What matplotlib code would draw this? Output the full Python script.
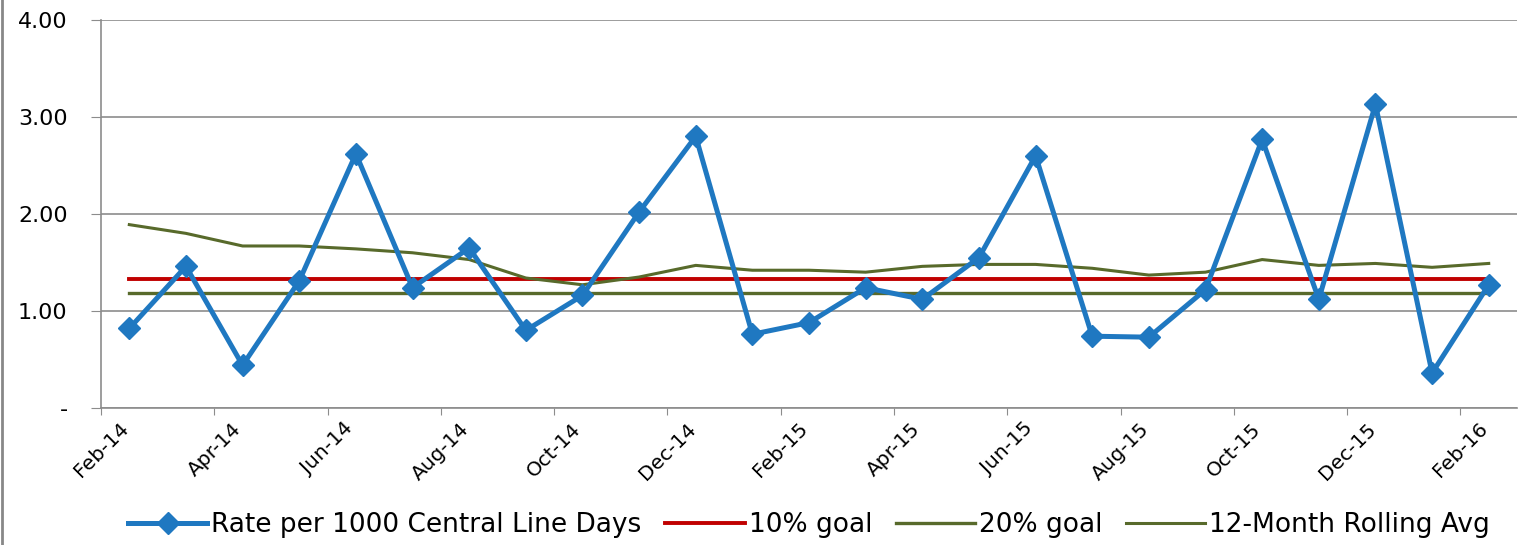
import matplotlib.pyplot as plt
import numpy as np
from matplotlib.lines import Line2D

months = ["Feb-14", "Mar-14", "Apr-14", "May-14", "Jun-14", "Jul-14", "Aug-14", "Sep-14",
          "Oct-14", "Nov-14", "Dec-14", "Jan-15", "Feb-15", "Mar-15", "Apr-15", "May-15",
          "Jun-15", "Jul-15", "Aug-15", "Sep-15", "Oct-15", "Nov-15", "Dec-15", "Jan-16",
          "Feb-16"]

rate = [0.82, 1.46, 0.44, 1.31, 2.62, 1.24, 1.65, 0.80, 1.16, 2.02, 2.80, 0.76, 0.88,
        1.24, 1.12, 1.55, 2.60, 0.74, 0.73, 1.22, 2.77, 1.12, 3.13, 0.36, 1.27]

rolling = [1.89, 1.80, 1.67, 1.67, 1.64, 1.60, 1.53, 1.34, 1.27, 1.35, 1.47, 1.42, 1.42,
           1.40, 1.46, 1.48, 1.48, 1.44, 1.37, 1.40, 1.53, 1.47, 1.49, 1.45, 1.49]

goal_10 = [1.33] * len(months)
goal_20 = [1.19] * len(months)

yticks = [0, 1, 2, 3, 4]
ytick_labels = ["-", "1.00", "2.00", "3.00", "4.00"]

blue = "#1f78c1"
red = "#c00000"
olive = "#586a2b"
grid = "#8c8c8c"

fig = plt.figure(figsize=(15.21, 5.45), dpi=100)
ax = fig.add_axes([0.0664, 0.2514, 0.931, 0.712])

x = np.arange(len(months)) + 0.5

ax.plot(x, rate, color=blue, lw=3.6, marker="D", ms=11, label="Rate per 1000 Central Line Days", zorder=4)
ax.plot(x, goal_10, color=red, lw=2.8, label="10% goal", zorder=3)
ax.plot(x, goal_20, color=olive, lw=2.4, label="20% goal", zorder=3)
ax.plot(x, rolling, color=olive, lw=2.2, label="12-Month Rolling Avg", zorder=3)

ax.set_xlim(0, len(months))
ax.set_ylim(0, 4)

ax.set_yticks(yticks)
ax.set_yticklabels(ytick_labels, fontsize=16)
ax.yaxis.grid(True, color=grid, lw=1.2)
ax.set_axisbelow(True)

tick_pos = np.arange(0, len(months), 2)
ax.set_xticks(tick_pos)
ax.set_xticklabels([months[i] for i in tick_pos], rotation=45, ha="center", fontsize=14.5)

for s in ["top", "right"]:
    ax.spines[s].set_visible(False)
for s in ["left", "bottom"]:
    ax.spines[s].set_color(grid)
    ax.spines[s].set_linewidth(1.2)
ax.tick_params(axis="y", length=7, color=grid, pad=17)
ax.tick_params(axis="x", length=5, color=grid, pad=3)

fig.legend(loc="center", bbox_to_anchor=(0.532, 0.037), ncol=4, frameon=False,
           fontsize=19, handlelength=3.0, handletextpad=0.15, columnspacing=0.9)

fig.add_artist(Line2D([0.0015, 0.0015], [0, 1], color="#888888", lw=2))

fig.savefig("out.png", dpi=100)
